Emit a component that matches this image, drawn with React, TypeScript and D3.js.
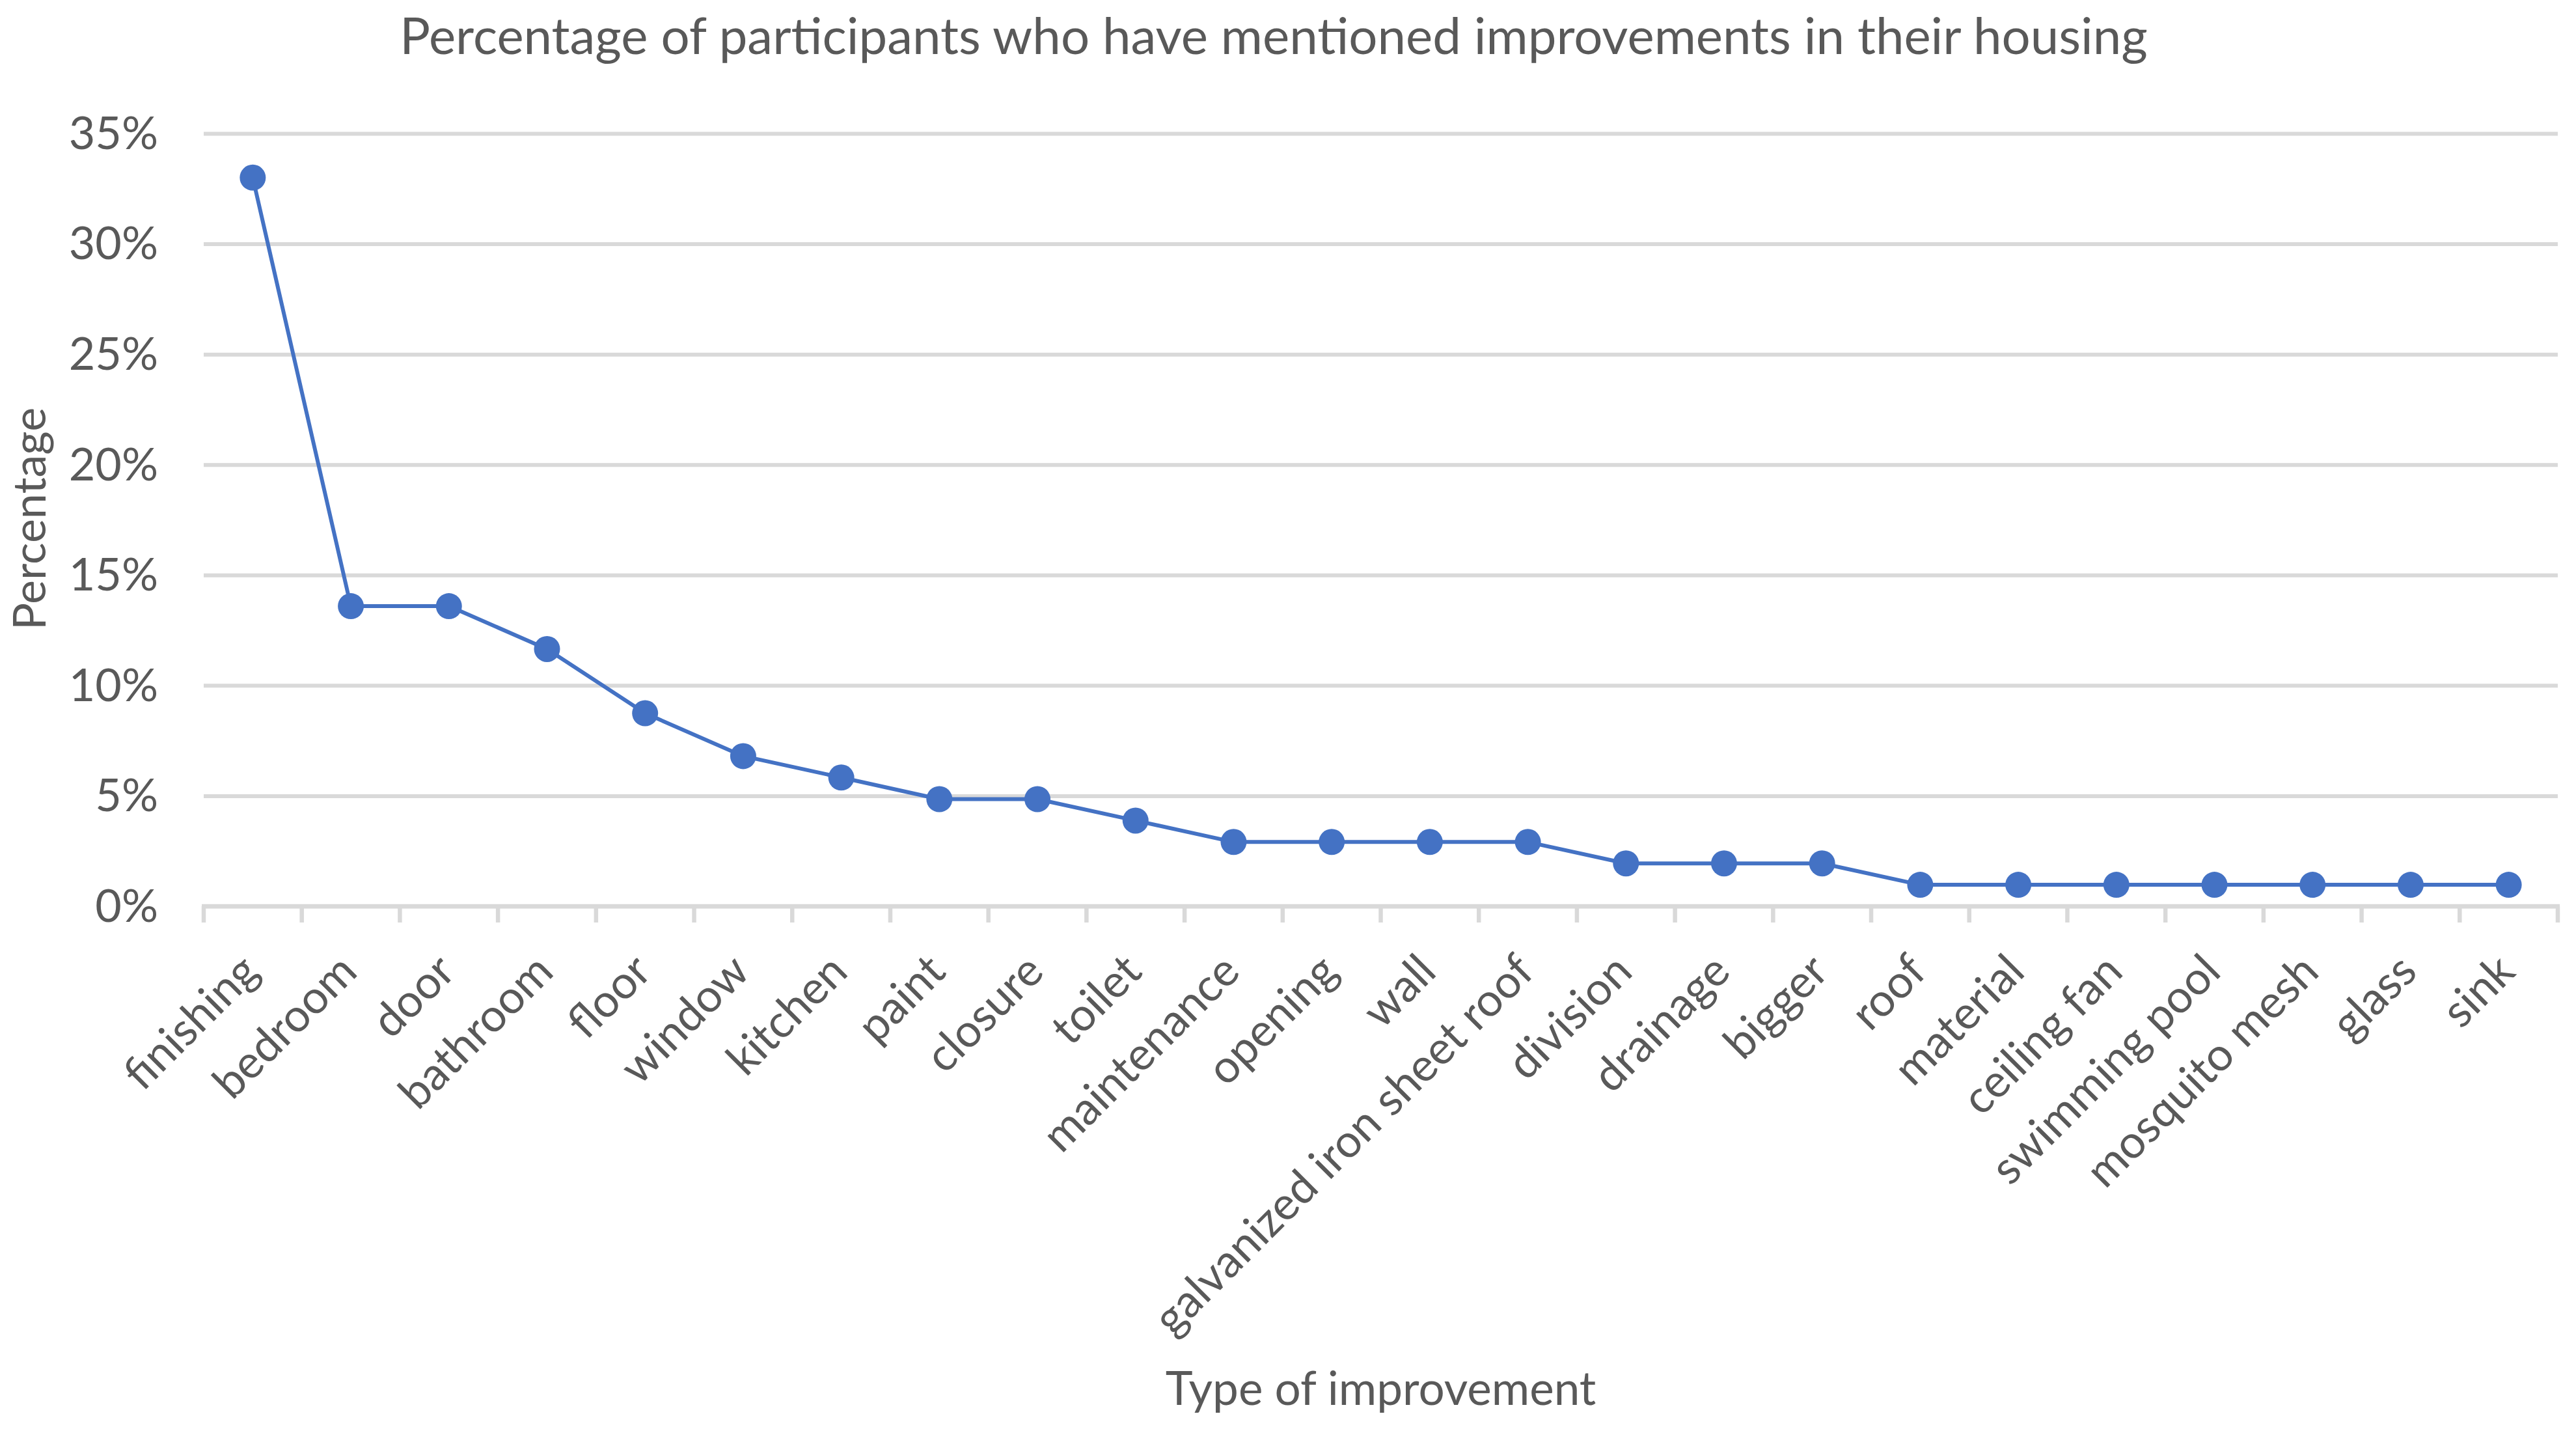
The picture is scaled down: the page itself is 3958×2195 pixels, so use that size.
import { useEffect, useRef } from 'react';
import * as d3 from 'd3';

const categories = [
  'finishing', 'bedroom', 'door', 'bathroom', 'floor', 'window', 'kitchen', 'paint',
  'closure', 'toilet', 'maintenance', 'opening', 'wall', 'galvanized iron sheet roof',
  'division', 'drainage', 'bigger', 'roof', 'material', 'ceiling fan', 'swimming pool',
  'mosquito mesh', 'glass', 'sink',
];

// percentage of participants (%)
const percentages = [
  33.0, 13.59, 13.59, 11.65, 8.74, 6.8, 5.83, 4.85,
  4.85, 3.88, 2.91, 2.91, 2.91, 2.91,
  1.94, 1.94, 1.94, 0.97, 0.97, 0.97, 0.97,
  0.97, 0.97, 0.97,
];

const yTicks = [0, 5, 10, 15, 20, 25, 30, 35];

const title = 'Percentage of participants who have mentioned improvements in their housing';
const xTitle = 'Type of improvement';
const yTitle = 'Percentage';

export default function App() {
  const svgRef = useRef<SVGSVGElement>(null);

  useEffect(() => {
    if (!svgRef.current) return;
    const width = 3958;
    const height = 2195;
    const margin = { top: 205, right: 28, bottom: 803, left: 313 };
    const innerWidth = width - margin.left - margin.right;
    const innerHeight = height - margin.top - margin.bottom;

    const font = 'Lato, "Open Sans", sans-serif';
    const textColor = '#595959';
    const gridColor = '#d9d9d9';
    const lineColor = '#4472c4';

    const svg = d3.select(svgRef.current);
    svg.selectAll('*').remove();
    svg.attr('width', width).attr('height', height);

    svg.append('rect').attr('width', width).attr('height', height).attr('fill', '#ffffff');

    const g = svg.append('g').attr('transform', `translate(${margin.left},${margin.top})`);

    const xScale = d3.scaleBand<string>().domain(categories).range([0, innerWidth]);
    const yScale = d3.scaleLinear().domain([0, 35]).range([innerHeight, 0]);

    // Grid lines
    g.append('g')
      .call(d3.axisLeft(yScale).tickValues(yTicks).tickSize(-innerWidth).tickFormat(() => ''))
      .call((gg) => {
        gg.select('.domain').remove();
        gg.selectAll('.tick line').attr('stroke', gridColor).attr('stroke-width', 6);
      });

    // Y tick labels
    g.append('g')
      .selectAll('text')
      .data(yTicks)
      .join('text')
      .attr('x', -70)
      .attr('y', (d) => yScale(d))
      .attr('dy', '0.34em')
      .attr('text-anchor', 'end')
      .attr('font-family', font)
      .attr('font-size', 70)
      .attr('fill', textColor)
      .text((d) => `${d}%`);

    // X axis with ticks at category boundaries
    const xAxis = g.append('g').attr('transform', `translate(0,${innerHeight})`);
    xAxis
      .append('line')
      .attr('x1', -3)
      .attr('x2', innerWidth + 3)
      .attr('stroke', gridColor)
      .attr('stroke-width', 6.5);
    xAxis
      .selectAll('line.tick')
      .data(d3.range(categories.length + 1))
      .join('line')
      .attr('class', 'tick')
      .attr('x1', (i) => (i < categories.length ? xScale(categories[i])! : innerWidth))
      .attr('x2', (i) => (i < categories.length ? xScale(categories[i])! : innerWidth))
      .attr('y1', 0)
      .attr('y2', 25)
      .attr('stroke', gridColor)
      .attr('stroke-width', 6.5);

    const bw = xScale.bandwidth();
    xAxis
      .selectAll('text')
      .data(categories)
      .join('text')
      .attr('transform', (d) => `translate(${xScale(d)! + bw / 2 + 13},${104}) rotate(-45)`)
      .attr('text-anchor', 'end')
      .attr('font-family', font)
      .attr('font-size', 70)
      .attr('fill', textColor)
      .text((d) => d);

    // Line
    const pts = categories.map((c, i) => ({ c, v: percentages[i] }));
    const line = d3
      .line<(typeof pts)[0]>()
      .x((d) => xScale(d.c)! + bw / 2)
      .y((d) => yScale(d.v));

    g.append('path')
      .datum(pts)
      .attr('fill', 'none')
      .attr('stroke', lineColor)
      .attr('stroke-width', 6)
      .attr('stroke-linejoin', 'round')
      .attr('d', line);

    g.append('g')
      .selectAll('circle')
      .data(pts)
      .join('circle')
      .attr('cx', (d) => xScale(d.c)! + bw / 2)
      .attr('cy', (d) => yScale(d.v))
      .attr('r', 20)
      .attr('fill', lineColor);

    // Titles
    svg.append('text')
      .attr('x', 1957)
      .attr('y', 83)
      .attr('text-anchor', 'middle')
      .attr('font-family', font)
      .attr('font-size', 78)
      .attr('fill', textColor)
      .text(title);

    svg.append('text')
      .attr('x', margin.left + innerWidth / 2)
      .attr('y', 2158)
      .attr('text-anchor', 'middle')
      .attr('font-family', font)
      .attr('font-size', 71)
      .attr('fill', textColor)
      .text(xTitle);

    svg.append('text')
      .attr('transform', `translate(70,797) rotate(-90)`)
      .attr('text-anchor', 'middle')
      .attr('font-family', font)
      .attr('font-size', 70)
      .attr('fill', textColor)
      .text(yTitle);
  }, []);

  return (
    <div style={{ position: 'absolute', left: 0, top: 0 }}>
      <svg ref={svgRef} style={{ display: 'block' }} />
    </div>
  );
}
